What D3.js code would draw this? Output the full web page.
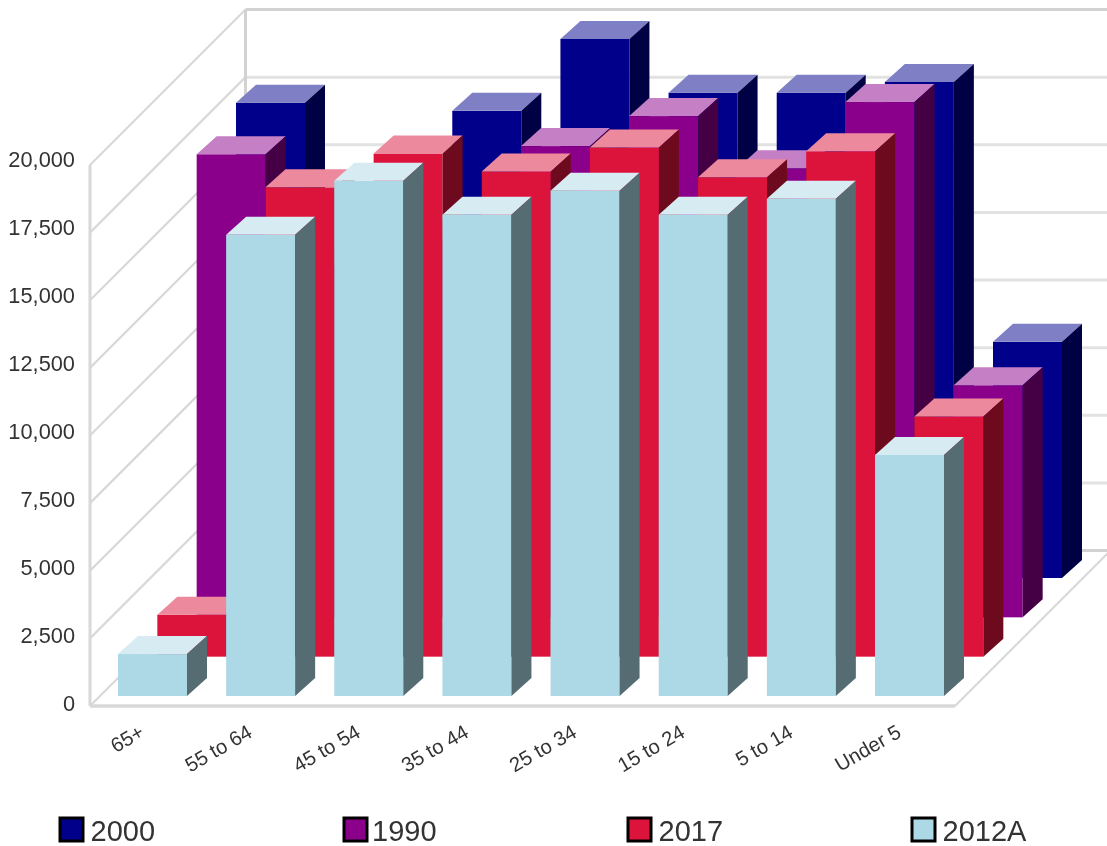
<!DOCTYPE html>
<html><head><meta charset="utf-8">
<script src="https://cdn.jsdelivr.net/npm/d3@7/dist/d3.min.js"></script>
<style>
html,body{margin:0;padding:0;background:#fff;overflow:hidden}
svg{display:block;filter:blur(0.6px)}
text{font-family:"Liberation Sans",Arial,sans-serif;fill:#333}
</style></head><body>
<svg id="c" width="1107" height="846"></svg>
<script>
const categories = ["65+","55 to 64","45 to 54","35 to 44","25 to 34","15 to 24","5 to 14","Under 5"];
const seriesNames = ["2000","1990","2017","2012A"];
const values2000  = [17570,14000,17270,19930,17940,17940,18340,8730];
const values1990  = [17120,13000,14000,17420,18530,16600,19050,8580];
const values2017  = [1550,17350,18600,17940,18820,17720,18680,8880];
const values2012A = [1550,17050,19050,17790,18680,17790,18380,8910];
const seriesValues = [values2000,values1990,values2017,values2012A];
const yTicks = [0,2500,5000,7500,10000,12500,15000,17500,20000];
const faceColors = ["#00008B","#8B008B","#DC143C","#ADD8E6"];
const topColors  = ["#7F7FC5","#C57FC5","#ED899D","#D6EBF2"];
const sideColors = ["#000045","#450045","#6E0A1E","#566C73"];

const svg = d3.select("#c");
const floorY = 706, wallX = 90, wallR = 955;
const depth = 155.5;
const barDepthX = 20, barDepthY = 18;

const x = d3.scaleBand().domain(categories).range([118,944]).paddingInner(0.362).paddingOuter(0);
const y = d3.scaleLinear().domain([0,20000]).range([0,541]);
const labelY = d3.scaleLinear().domain([0,20000]).range([704,160]);
const dx = d3.scalePoint().domain(["2012A","2017","1990","2000"]).range([0,118]);
const dy = d3.scalePoint().domain(["2012A","2017","1990","2000"]).range([696,578]);

// walls
const grid = svg.append("g").attr("fill","none").attr("stroke","#d8d8d8");
yTicks.forEach(t=>{
  const yf = floorY - y(t);
  grid.append("line").attr("x1",wallX).attr("y1",yf).attr("x2",wallX+depth).attr("y2",yf-depth).attr("stroke-width",2.2);
  grid.append("line").attr("x1",wallX+depth).attr("y1",yf-depth).attr("x2",1112).attr("y2",yf-depth).attr("stroke-width",3)
      .attr("stroke", t===20000||t===0 ? "#d2d2d2":"#e2e2e2");
});
grid.append("line").attr("x1",wallX).attr("y1",floorY).attr("x2",wallX).attr("y2",floorY-y(20000)).attr("stroke-width",3);
grid.append("line").attr("x1",wallX+depth).attr("y1",floorY-depth).attr("x2",wallX+depth).attr("y2",floorY-depth-y(20000)).attr("stroke-width",3).attr("stroke","#d2d2d2");
grid.append("line").attr("x1",wallX).attr("y1",floorY).attr("x2",wallR).attr("y2",floorY).attr("stroke-width",3.5);
grid.append("line").attr("x1",wallR).attr("y1",floorY).attr("x2",wallR+depth).attr("y2",floorY-depth).attr("stroke-width",2.2);

// bars, back series first
seriesNames.forEach((name,si)=>{
  const g = svg.append("g");
  categories.forEach((c,ci)=>{
    const v = seriesValues[si][ci];
    const x0 = x(c)+dx(name), x1 = x0+x.bandwidth();
    const base = dy(name), top = base-y(v);
    g.append("rect").attr("x",x0).attr("y",top).attr("width",x.bandwidth()).attr("height",base-top).attr("fill",faceColors[si]);
    g.append("path").attr("d",`M${x0},${top}L${x0+barDepthX},${top-barDepthY}L${x1+barDepthX},${top-barDepthY}L${x1},${top}Z`).attr("fill",topColors[si]);
    g.append("path").attr("d",`M${x1},${top}L${x1+barDepthX},${top-barDepthY}L${x1+barDepthX},${base-barDepthY}L${x1},${base}Z`).attr("fill",sideColors[si]);
  });
});

// axes
const yAxis = svg.append("g").attr("transform","translate(75,0)")
  .call(d3.axisLeft(labelY).tickValues(yTicks).tickSize(0).tickPadding(0).tickFormat(d3.format(",")));
yAxis.select(".domain").remove();
yAxis.selectAll("text").style("font-size","21.8px").style("font-family",'"Liberation Sans",Arial,sans-serif').attr("fill","#333");

const xAxis = svg.append("g").attr("transform",`translate(0,${floorY})`)
  .call(d3.axisBottom(x).tickSize(0).tickPadding(0));
xAxis.select(".domain").remove();
xAxis.selectAll("text").style("font-size","20.3px").style("font-family",'"Liberation Sans",Arial,sans-serif').attr("fill","#333")
  .attr("text-anchor","end").attr("dy",0).attr("y",0)
  .attr("transform","translate(-7,30) rotate(-30)");

// legend
const legendX = d3.scaleOrdinal().domain(seriesNames).range([60,344,628,912]);
const lg = svg.append("g").selectAll("g").data(seriesNames).join("g")
  .attr("transform",d=>`translate(${legendX(d)},818)`);
lg.append("rect").attr("width",23).attr("height",23).attr("fill",(d,i)=>faceColors[i]).attr("stroke","#000").attr("stroke-width",3);
lg.append("text").attr("x",(d,i)=>i===1?28:30.5).attr("y",22.5).style("font-size","29px").text(d=>d);
</script>
</body></html>
